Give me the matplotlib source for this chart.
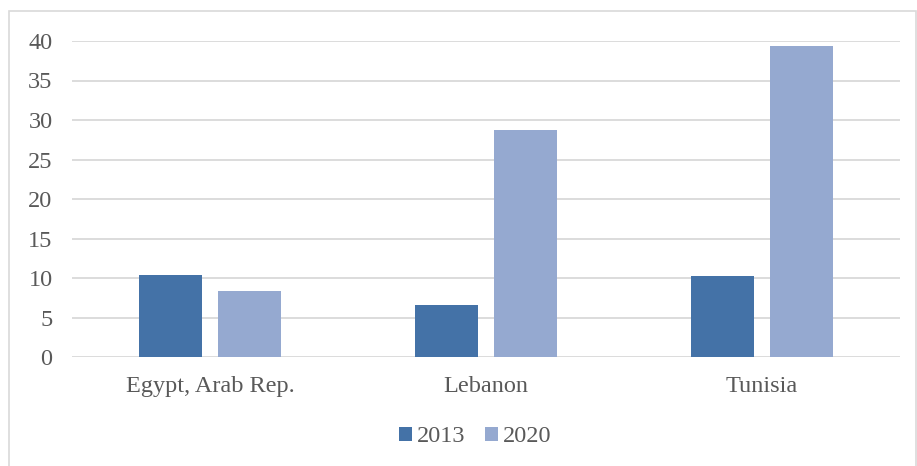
import matplotlib
matplotlib.use("Agg")
import matplotlib.pyplot as plt
import numpy as np
from matplotlib.patches import Rectangle

categories = ["Egypt, Arab Rep.", "Lebanon", "Tunisia"]
series_names = ["2013", "2020"]
values_2013 = [10.4, 6.6, 10.2]
values_2020 = [8.4, 28.7, 39.4]
yticks = [0, 5, 10, 15, 20, 25, 30, 35, 40]

colors = ["#4472A7", "#95A9D0"]
text_color = "#595959"

plt.rcParams["font.family"] = ["Liberation Serif", "DejaVu Serif"]

fig = plt.figure(figsize=(9.17, 4.66), dpi=100)
ax = fig.add_axes([72/917, 1-357/466, 828/917, 316/466])

x = np.arange(len(categories))
w = 0.225
off = 0.143
ax.bar(x - off, values_2013, w, color=colors[0], label=series_names[0], zorder=3)
ax.bar(x + off, values_2020, w, color=colors[1], label=series_names[1], zorder=3)

ax.set_xlim(-0.5, 2.5)
ax.set_ylim(0, 40)
ax.set_yticks(yticks)
ax.set_xticks(x)
ax.set_xticklabels(categories)
ax.yaxis.grid(True, color="#D9D9D9", linewidth=1.3, zorder=0)
ax.set_axisbelow(True)
for s in ax.spines.values():
    s.set_visible(False)
ax.tick_params(axis="both", length=0, labelsize=17.5, labelcolor=text_color)
ax.tick_params(axis="y", pad=14)
ax.tick_params(axis="x", pad=14)

leg = fig.legend(loc="center", bbox_to_anchor=(475/917, 1-437/466), ncol=2,
                 frameon=False, fontsize=17.5, handlelength=0.55, handleheight=0.55,
                 handletextpad=0.2, columnspacing=0.8)
for t in leg.get_texts():
    t.set_color(text_color)

fig.patches.append(Rectangle((9/917, -0.01), 1 - 9/917 - 1/917, 1 - 11/466 + 0.01,
                             transform=fig.transFigure, fill=False,
                             edgecolor="#D9D9D9", linewidth=1.2))

fig.savefig("out.png", dpi=100)
